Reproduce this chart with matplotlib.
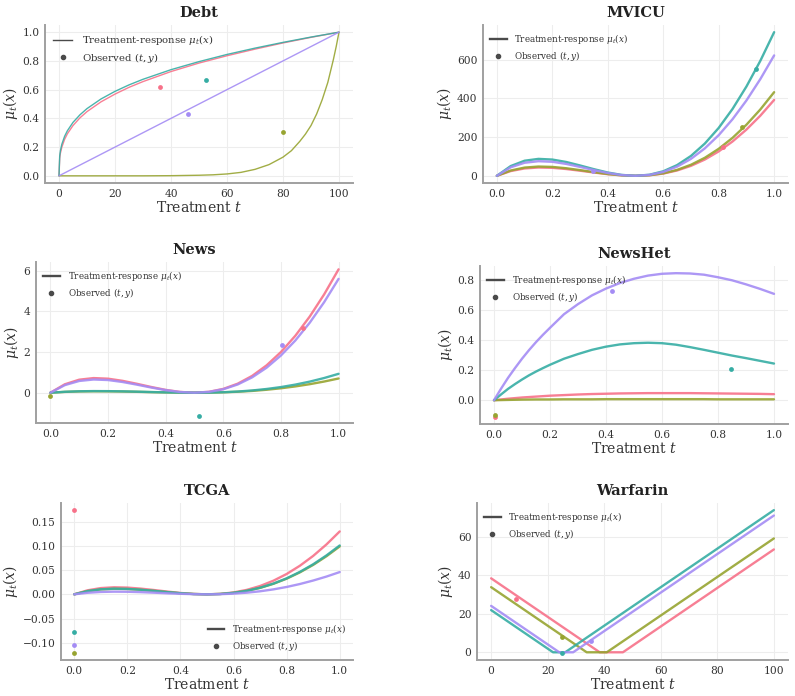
import matplotlib.pyplot as plt
from matplotlib.lines import Line2D

plt.rcParams.update({
    'font.family': 'serif',
    'font.serif': ['DejaVu Serif'],
    'mathtext.fontset': 'dejavuserif',
    'text.color': '#333333',
    'axes.labelcolor': '#333333',
    'xtick.color': '#333333',
    'ytick.color': '#333333',
})

# husl palette, 4 colours: red, olive, teal, purple
colors = ['#f77189', '#97a431', '#36ada4', '#a48cf4']

t21 = [0, 0.05, 0.1, 0.15, 0.2, 0.25, 0.3, 0.35, 0.4, 0.45, 0.5,
       0.55, 0.6, 0.65, 0.7, 0.75, 0.8, 0.85, 0.9, 0.95, 1.0]

# ---- Debt
debt_t = [0, 0.25, 0.5, 1, 2, 3, 5, 7.5, 10, 15, 20, 25, 30, 40, 50, 60, 70, 80, 90, 100]
debt_red = [0, 0.123, 0.157, 0.199, 0.254, 0.293, 0.350, 0.404, 0.447, 0.515, 0.569,
            0.616, 0.656, 0.726, 0.785, 0.836, 0.882, 0.925, 0.964, 1.0]
debt_teal = [0, 0.138, 0.174, 0.219, 0.275, 0.314, 0.372, 0.425, 0.468, 0.535, 0.588,
             0.633, 0.672, 0.739, 0.795, 0.845, 0.889, 0.929, 0.966, 1.0]
debt_olive_t = [0, 30, 40, 50, 55, 60, 65, 70, 75, 80, 83, 86, 88, 90, 92, 94, 96, 98, 99, 100]
debt_olive = [0, 0.0, 0.001, 0.004, 0.007, 0.013, 0.024, 0.045, 0.078, 0.13, 0.175,
              0.24, 0.29, 0.35, 0.43, 0.53, 0.65, 0.81, 0.9, 1.0]
debt_purple_t = [0, 100]
debt_purple = [0, 1.0]
debt_pts_t = [36, 80, 52.5, 46]
debt_pts_y = [0.62, 0.305, 0.665, 0.43]

# ---- MVICU
mvicu_red = [0, 24.6, 38.1, 42.9, 41.3, 35.1, 26.4, 17.0, 8.4, 2.3, 0,
             2.7, 11.6, 27.6, 51.5, 84.1, 126.0, 177.4, 238.8, 310.3, 392]
mvicu_olive = [0, 27.5, 42.6, 47.9, 46.0, 39.2, 29.5, 18.9, 9.4, 2.6, 0,
               3.0, 12.9, 30.6, 57.1, 93.1, 139.4, 196.1, 263.8, 342.4, 432]
mvicu_teal = [0, 50.5, 78.0, 87.5, 84.0, 71.5, 53.5, 34.3, 17.0, 4.7, 0,
              5.5, 23.4, 55.4, 102.7, 166.5, 247.3, 345.6, 461.1, 593.4, 742]
mvicu_purple = [0, 44.0, 67.5, 75.5, 72.5, 61.5, 46.0, 29.5, 14.6, 4.0, 0,
                4.7, 20.0, 47.3, 87.6, 141.7, 209.9, 292.4, 389.0, 499.2, 622]
mvicu_pts_t = [0.815, 0.885, 0.933, 0.347]
mvicu_pts_y = [150, 250, 550, 27]

# ---- News
news_red = [0, 0.415, 0.641, 0.720, 0.690, 0.585, 0.439, 0.281, 0.139, 0.038, 0,
            0.044, 0.188, 0.445, 0.827, 1.344, 2.001, 2.803, 3.749, 4.840, 6.07]
news_olive = [0, 0.040, 0.062, 0.070, 0.067, 0.058, 0.044, 0.028, 0.014, 0.004, 0,
              0.005, 0.020, 0.047, 0.088, 0.145, 0.219, 0.310, 0.420, 0.550, 0.70]
news_teal = [0, 0.045, 0.070, 0.080, 0.077, 0.067, 0.051, 0.033, 0.017, 0.005, 0,
             0.006, 0.024, 0.058, 0.110, 0.183, 0.278, 0.399, 0.546, 0.723, 0.93]
news_purple = [0, 0.373, 0.578, 0.650, 0.623, 0.528, 0.397, 0.254, 0.127, 0.034, 0,
               0.040, 0.171, 0.406, 0.755, 1.229, 1.833, 2.570, 3.446, 4.456, 5.60]
news_pts_t = [0.875, 0.0, 0.515, 0.805]
news_pts_y = [3.2, -0.16, -1.13, 2.35]

# ---- NewsHet
newshet_t = [0, 0.025, 0.05, 0.075, 0.1, 0.125, 0.15, 0.175, 0.2, 0.25, 0.3, 0.35, 0.4,
             0.45, 0.5, 0.55, 0.6, 0.65, 0.7, 0.75, 0.8, 0.85, 0.9, 0.95, 1.0]
newshet_red = [0, 0.005, 0.010, 0.014, 0.018, 0.021, 0.024, 0.027, 0.030, 0.034, 0.038,
               0.041, 0.043, 0.045, 0.046, 0.047, 0.047, 0.047, 0.047, 0.046, 0.045,
               0.044, 0.043, 0.042, 0.040]
newshet_olive = [0, 0.001, 0.002, 0.003, 0.004, 0.0045, 0.005, 0.005, 0.005, 0.006, 0.006,
                 0.006, 0.007, 0.007, 0.007, 0.007, 0.007, 0.007, 0.007, 0.007, 0.006,
                 0.006, 0.006, 0.006, 0.006]
newshet_teal = [0, 0.038, 0.075, 0.107, 0.137, 0.165, 0.19, 0.213, 0.235, 0.275, 0.306,
                0.334, 0.355, 0.37, 0.378, 0.381, 0.378, 0.368, 0.352, 0.334, 0.315,
                0.296, 0.279, 0.261, 0.243]
newshet_purple = [0, 0.076, 0.148, 0.213, 0.275, 0.332, 0.385, 0.434, 0.48, 0.57, 0.637,
                  0.695, 0.74, 0.777, 0.805, 0.826, 0.838, 0.842, 0.84, 0.832, 0.815,
                  0.795, 0.768, 0.738, 0.705]
newshet_pts_t = [0.003, 0.003, 0.848, 0.421]
newshet_pts_y = [-0.11, -0.095, 0.21, 0.725]

# ---- TCGA
tcga_red = [0, 0.0083, 0.0129, 0.0145, 0.0139, 0.0118, 0.0089, 0.0057, 0.0028, 0.0008, 0,
            0.0009, 0.0039, 0.0092, 0.0172, 0.0281, 0.0420, 0.0591, 0.0794, 0.1031, 0.130]
tcga_olive = [0, 0.0065, 0.0101, 0.0113, 0.0109, 0.0093, 0.0070, 0.0045, 0.0022, 0.0006, 0,
              0.0007, 0.0030, 0.0071, 0.0133, 0.0217, 0.0323, 0.0454, 0.0608, 0.0787, 0.099]
tcga_teal = [0, 0.0067, 0.0104, 0.0117, 0.0112, 0.0095, 0.0072, 0.0046, 0.0023, 0.0006, 0,
             0.0007, 0.0031, 0.0073, 0.0136, 0.0222, 0.0330, 0.0464, 0.0621, 0.0804, 0.101]
tcga_purple = [0, 0.0032, 0.0049, 0.0055, 0.0053, 0.0045, 0.0034, 0.0021, 0.0011, 0.0003, 0,
               0.0003, 0.0014, 0.0034, 0.0063, 0.0102, 0.0152, 0.0213, 0.0285, 0.0367, 0.046]
tcga_pts_t = [0.0, 0.0, 0.0, 0.0]
tcga_pts_y = [0.174, -0.121, -0.077, -0.105]

# ---- Warfarin (piecewise linear, corners only)
warf_red_t = [0, 38.4, 46.6, 100]
warf_red = [38.4, 0, 0, 53.4]
warf_olive_t = [0, 33.8, 40.9, 100]
warf_olive = [33.8, 0, 0, 59.1]
warf_teal_t = [0, 21.9, 26.2, 100]
warf_teal = [21.9, 0, 0, 73.8]
warf_purple_t = [0, 24.1, 29.0, 100]
warf_purple = [24.1, 0, 0, 71.0]
warf_pts_t = [8.8, 25.1, 25.2, 35.4]
warf_pts_y = [27.8, 7.9, -0.3, 5.7]


def draw_panel(ax, title, xs, ys, pts_t, pts_y, lw=1.7, leg_loc='upper left', leg_fs=6.3):
    for i in range(4):
        ax.plot(xs[i], ys[i], color=colors[i], lw=lw, alpha=0.9, solid_capstyle='round')
    for i in range(4):
        ax.scatter(pts_t[i], pts_y[i], color=colors[i], s=12, zorder=5, linewidths=0)
    ax.set_title(title, fontsize=10.5, fontweight='bold', color='#222222', pad=6)
    ax.set_xlabel('Treatment $t$', fontsize=10, labelpad=1)
    ax.set_ylabel('$\\mu_t(x)$', fontsize=10, labelpad=2)
    ax.tick_params(labelsize=7.7, length=0, pad=4)
    ax.grid(True, color='#ededed', lw=0.8)
    ax.set_axisbelow(True)
    for s in ['top', 'right']:
        ax.spines[s].set_visible(False)
    for s in ['left', 'bottom']:
        ax.spines[s].set_color('#a0a0a0')
        ax.spines[s].set_linewidth(1.4)
    handles = [Line2D([], [], color='#4a4a4a', lw=lw),
               Line2D([], [], color='#4a4a4a', marker='o', ls='', markersize=3)]
    ax.legend(handles, ['Treatment-response $\\mu_t(x)$', 'Observed $(t,y)$'],
              loc=leg_loc, fontsize=leg_fs, frameon=False, handlelength=1.9,
              handletextpad=0.9, labelspacing=0.35, borderaxespad=0.4)


fig, axes = plt.subplots(3, 2, figsize=(7.95, 6.96), dpi=100)

draw_panel(axes[0, 0], 'Debt',
           [debt_t, debt_olive_t, debt_t, debt_purple_t],
           [debt_red, debt_olive, debt_teal, debt_purple],
           debt_pts_t, debt_pts_y, lw=1.0, leg_fs=7.3)
draw_panel(axes[0, 1], 'MVICU', [t21] * 4,
           [mvicu_red, mvicu_olive, mvicu_teal, mvicu_purple],
           mvicu_pts_t, mvicu_pts_y)
draw_panel(axes[1, 0], 'News', [t21] * 4,
           [news_red, news_olive, news_teal, news_purple],
           news_pts_t, news_pts_y)
draw_panel(axes[1, 1], 'NewsHet', [newshet_t] * 4,
           [newshet_red, newshet_olive, newshet_teal, newshet_purple],
           newshet_pts_t, newshet_pts_y)
draw_panel(axes[2, 0], 'TCGA', [t21] * 4,
           [tcga_red, tcga_olive, tcga_teal, tcga_purple],
           tcga_pts_t, tcga_pts_y, leg_loc='lower right')
draw_panel(axes[2, 1], 'Warfarin',
           [warf_red_t, warf_olive_t, warf_teal_t, warf_purple_t],
           [warf_red, warf_olive, warf_teal, warf_purple],
           warf_pts_t, warf_pts_y)

axes[0, 1].set_yticks([0, 200, 400, 600])
axes[2, 1].set_yticks([0, 20, 40, 60])

W, H = 795.0, 696.0
boxes = [[(45, 25, 353, 183), (483, 25, 788, 183)],
         [(36, 262, 353, 423), (480, 266, 788, 424)],
         [(61, 503, 353, 660), (477, 503, 788, 660)]]
for r in range(3):
    for c in range(2):
        l, t, rr, b = boxes[r][c]
        axes[r, c].set_position([l / W, 1 - b / H, (rr - l) / W, (b - t) / H])

fig.savefig('out.png', dpi=100)
